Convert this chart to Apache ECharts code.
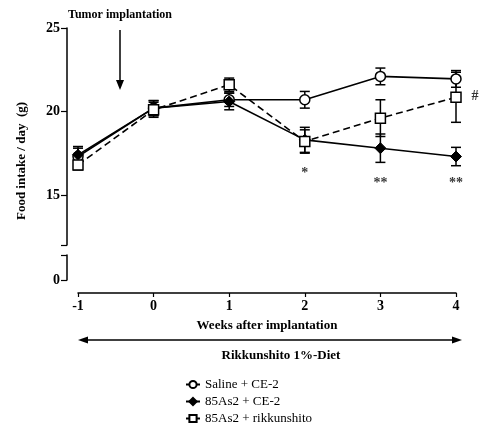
<!DOCTYPE html>
<html><head><meta charset="utf-8">
<script src="https://cdn.jsdelivr.net/npm/echarts@6/dist/echarts.min.js"></script>
<style>html,body{margin:0;padding:0;background:#fff}#c{width:480px;height:428px}</style>
</head><body><div id="c"></div>
<script>
const weeks = [-1, 0, 1, 2, 3, 4];
const salineCE2 = [17.3, 20.2, 20.7, 20.7, 22.1, 21.95];
const salineErr = [0.5, 0.45, 0.4, 0.5, 0.5, 0.5];
const as2CE2 = [17.4, 20.2, 20.6, 18.3, 17.8, 17.3];
const as2Err = [0.5, 0.45, 0.5, 0.75, 0.85, 0.55];
const as2Rik = [16.8, 20.1, 21.6, 18.2, 19.6, 20.85];
const rikErr = [0.3, 0.45, 0.4, 0.7, 1.1, 1.5];
const seriesNames = ['Saline + CE-2', '85As2 + CE-2', '85As2 + rikkunshito'];
const yTicksTop = [15, 20, 25];
const yTicksBottom = [0];
const annotX = [2, 3, 4, 4.25];
const annotY = [16.3, 15.7, 15.7, 20.9];
const annotText = ['*', '**', '**', '#'];

const SERIF = '"Liberation Serif","DejaVu Serif",serif';
const black = '#000';

function pairs(ys) { return weeks.map((w, i) => [w, ys[i]]); }
function errData(ys, es) { return weeks.map((w, i) => [w, ys[i], es[i]]); }

function errRender(params, api) {
  const x = api.value(0), y = api.value(1), e = api.value(2);
  const top = api.coord([x, y + e]);
  const bot = api.coord([x, y - e]);
  const hw = 5;
  const st = { stroke: black, lineWidth: 1.5 };
  return {
    type: 'group',
    children: [
      { type: 'line', shape: { x1: top[0], y1: top[1], x2: bot[0], y2: bot[1] }, style: st },
      { type: 'line', shape: { x1: top[0] - hw, y1: top[1], x2: top[0] + hw, y2: top[1] }, style: st },
      { type: 'line', shape: { x1: bot[0] - hw, y1: bot[1], x2: bot[0] + hw, y2: bot[1] }, style: st }
    ]
  };
}

const axisLineStyle = { color: black, width: 1.5 };
const labelStyle = { color: black, fontFamily: SERIF, fontWeight: 'bold', fontSize: 14 };

const option = {
  animation: false,
  backgroundColor: '#fff',
  grid: [
    { left: 78, top: 28, width: 378, height: 217 },
    { left: 78, top: 255, width: 378, height: 25 }
  ],
  xAxis: [
    { gridIndex: 0, type: 'value', min: -1, max: 4, interval: 1, show: false },
    {
      gridIndex: 1, type: 'value', min: -1, max: 4, interval: 1, offset: 13,
      axisLine: { show: true, onZero: false, lineStyle: axisLineStyle },
      axisTick: { show: true, length: 4, lineStyle: { color: black, width: 1.2 } },
      axisLabel: Object.assign({ margin: 6 }, labelStyle),
      splitLine: { show: false },
      name: 'Weeks after implantation', nameLocation: 'middle', nameGap: 26,
      nameTextStyle: { color: black, fontFamily: SERIF, fontWeight: 'bold', fontSize: 13 }
    }
  ],
  yAxis: [
    {
      gridIndex: 0, type: 'value', min: 12, max: 25, offset: 11,
      axisLine: { show: true, onZero: false, lineStyle: axisLineStyle },
      axisTick: { show: true, length: 6, customValues: [12].concat(yTicksTop), lineStyle: { color: black, width: 1.2 } },
      axisLabel: Object.assign({ customValues: yTicksTop, margin: 7 }, labelStyle),
      splitLine: { show: false }
    },
    {
      gridIndex: 1, type: 'value', min: 0, max: 1.5, offset: 11,
      axisLine: { show: true, onZero: false, lineStyle: axisLineStyle },
      axisTick: { show: true, length: 6, customValues: yTicksBottom.concat([1.5]), lineStyle: { color: black, width: 1.2 } },
      axisLabel: Object.assign({ customValues: yTicksBottom, margin: 7 }, labelStyle),
      splitLine: { show: false }
    }
  ],
  legend: {
    orient: 'vertical', left: 180, top: 373, height: 70, itemGap: 4, itemWidth: 14, itemHeight: 9,
    data: seriesNames,
    textStyle: { color: black, fontFamily: SERIF, fontSize: 13 }
  },
  series: [
    { type: 'custom', xAxisIndex: 0, yAxisIndex: 0, renderItem: errRender, data: errData(salineCE2, salineErr), z: 2, silent: true },
    { type: 'custom', xAxisIndex: 0, yAxisIndex: 0, renderItem: errRender, data: errData(as2CE2, as2Err), z: 2, silent: true },
    { type: 'custom', xAxisIndex: 0, yAxisIndex: 0, renderItem: errRender, data: errData(as2Rik, rikErr), z: 2, silent: true },
    {
      name: seriesNames[0], type: 'line', xAxisIndex: 0, yAxisIndex: 0, data: pairs(salineCE2), z: 3,
      symbol: 'circle', symbolSize: 10,
      lineStyle: { color: black, width: 1.6, type: 'solid' },
      itemStyle: { color: '#fff', borderColor: black, borderWidth: 1.5 }
    },
    {
      name: seriesNames[1], type: 'line', xAxisIndex: 0, yAxisIndex: 0, data: pairs(as2CE2), z: 4,
      symbol: 'diamond', symbolSize: 11,
      lineStyle: { color: black, width: 1.6, type: 'solid' },
      itemStyle: { color: black, borderColor: black, borderWidth: 1 }
    },
    {
      name: seriesNames[2], type: 'line', xAxisIndex: 0, yAxisIndex: 0, data: pairs(as2Rik), z: 5,
      symbol: 'rect', symbolSize: 10,
      lineStyle: { color: black, width: 1.6, type: [7, 4] },
      itemStyle: { color: '#fff', borderColor: black, borderWidth: 1.5 }
    },
    {
      type: 'scatter', xAxisIndex: 0, yAxisIndex: 0, symbolSize: 0, clip: false, silent: true,
      data: annotX.map((x, i) => ({ value: [x, annotY[i]], name: annotText[i] })),
      label: { show: true, position: 'inside', formatter: p => p.name, color: black, fontFamily: SERIF, fontWeight: 'bold', fontSize: 14 }
    }
  ],
  graphic: [
    { type: 'text', left: 68, top: 9, style: { text: 'Tumor implantation', fill: black, font: 'bold 12px ' + SERIF } },
    { type: 'line', shape: { x1: 120, y1: 30, x2: 120, y2: 84 }, style: { stroke: black, lineWidth: 1.5 } },
    { type: 'polygon', shape: { points: [[116, 80], [124, 80], [120, 90]] }, style: { fill: black } },
    { type: 'text', x: 22, y: 161, rotation: Math.PI / 2, style: { text: 'Food intake / day  (g)', fill: black, font: 'bold 13px ' + SERIF, align: 'center', verticalAlign: 'middle' } },
    { type: 'line', shape: { x1: 84, y1: 340, x2: 456, y2: 340 }, style: { stroke: black, lineWidth: 1.5 } },
    { type: 'polygon', shape: { points: [[78, 340], [88, 336.5], [88, 343.5]] }, style: { fill: black } },
    { type: 'polygon', shape: { points: [[462, 340], [452, 336.5], [452, 343.5]] }, style: { fill: black } },
    { type: 'text', x: 281, y: 356, style: { text: 'Rikkunshito 1%-Diet', fill: black, font: 'bold 13px ' + SERIF, align: 'center', verticalAlign: 'middle' } }
  ]
};

const chart = echarts.init(document.getElementById('c'), null, { renderer: 'canvas' });
chart.setOption(option);
</script>
</body></html>
